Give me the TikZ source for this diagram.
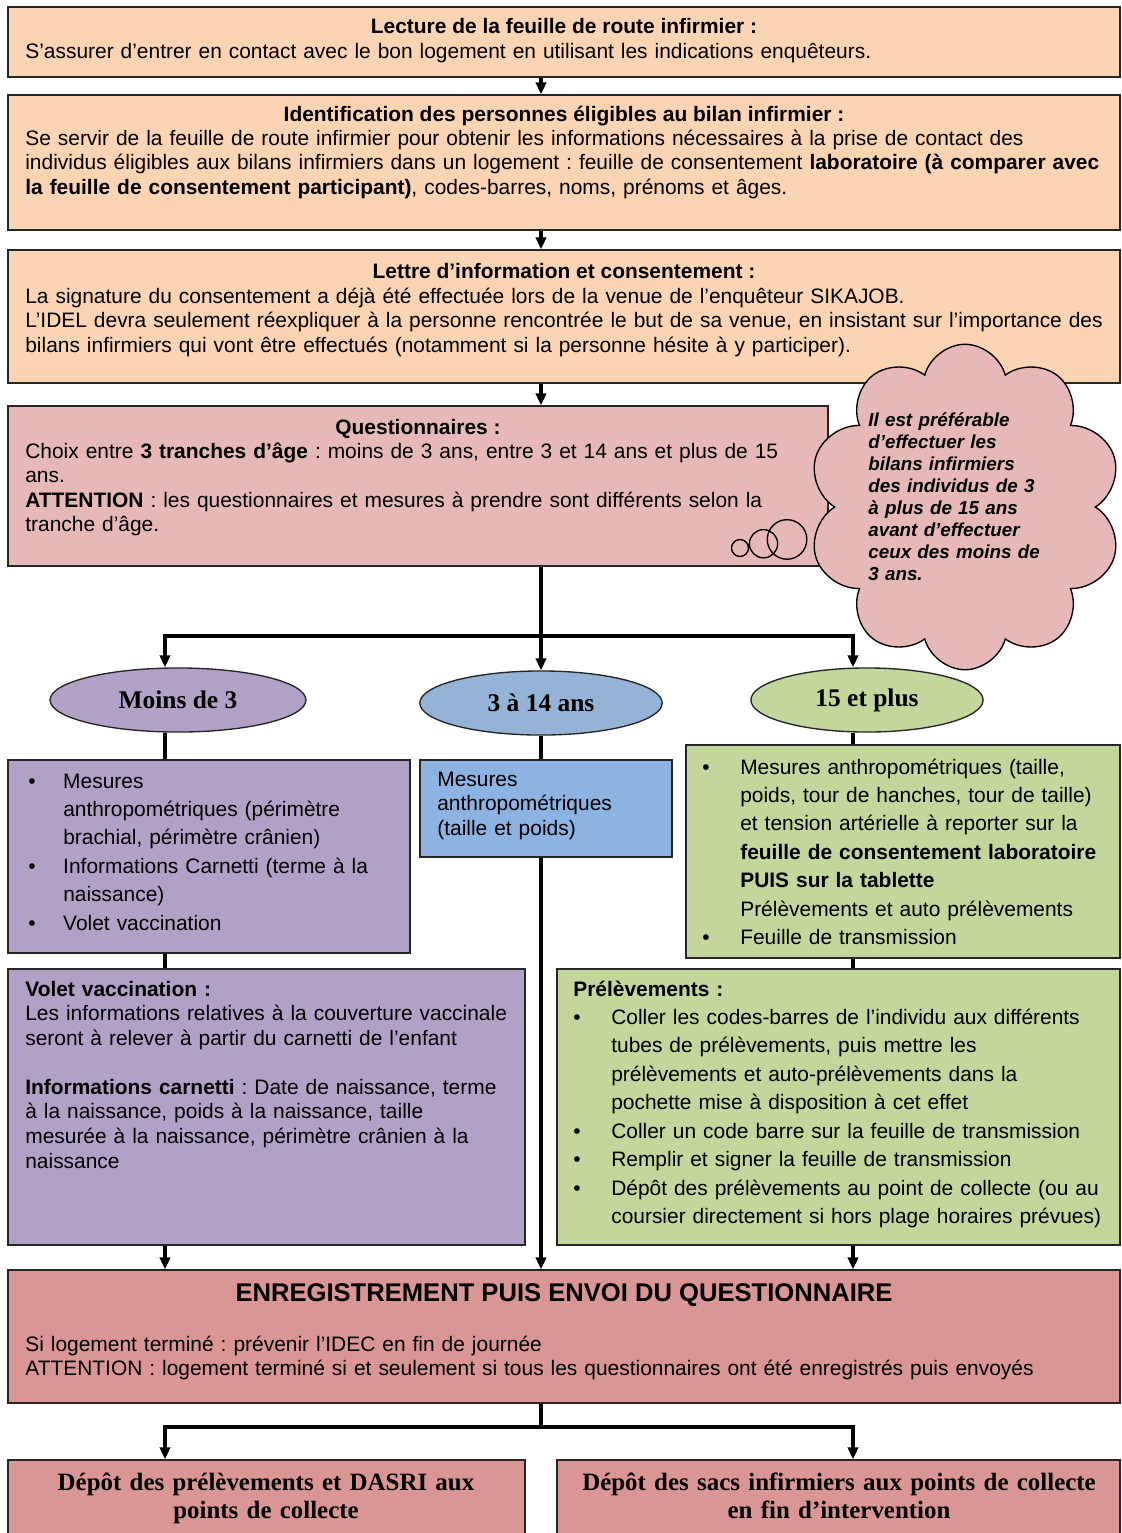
\documentclass[tikz,border=0pt]{standalone}
\usepackage{fontspec}
\setmainfont{Liberation Sans}
\newfontfamily\tnr{Liberation Serif}
\frenchspacing
\usetikzlibrary{arrows.meta,fit,shapes.geometric,shapes.symbols,shapes.callouts}
\definecolor{peche}{HTML}{FBD4B4}
\definecolor{rosepale}{HTML}{E6B9B8}
\definecolor{rosefonce}{HTML}{D99694}
\definecolor{violet}{HTML}{B2A1C7}
\definecolor{bleuov}{HTML}{95B3D7}
\definecolor{bleubox}{HTML}{8DB3E2}
\definecolor{vert}{HTML}{C3D69B}
\tikzset{
    box/.style={draw=black!85,line width=0.8pt,inner sep=0pt},
    ovale/.style={ellipse,draw=black!85,line width=0.8pt,minimum height=37.8pt,
        font=\tnr\bfseries\fontsize{15}{17}\selectfont},
    titre/.style={anchor=base,inner sep=0pt,font=\bfseries\fontsize{12.35}{14.5}\selectfont},
    txt/.style={anchor=base west,inner sep=0pt,align=left,text width=#1,
        font=\fontsize{12.35}{14.5}\selectfont},
    liste/.style={txt=#1,font=\fontsize{12.35}{16.8}\selectfont},
    depot/.style={anchor=base,inner sep=0pt,align=center,text width=283pt,
        font=\tnr\bfseries\fontsize{14.7}{17}\selectfont},
    flow/.style={-{Triangle[length=7pt,width=6pt]},line width=2pt},
    link/.style={line width=2pt}
}
\newcommand{\puce}[2]{{\noindent\hangindent=#1\hangafter=1\makebox[#1][l]{\textbullet}#2\par}}

\begin{document}
\begin{tikzpicture}[x=0.59pt,y=-0.59pt]
\useasboundingbox (0,0) rectangle (1122,1533);
% colonnes des fleches
\coordinate (colA) at (165,0);
\coordinate (colB) at (541,0);
\coordinate (colC) at (853,0);

% etapes communes
\node[box,fill=peche,fit={(8,7)(1120,77)}] (lecture) {};
\node[titre] (lectureH) at (564,33) {Lecture de la feuille de route infirmier :};
\node[txt=650pt] (lectureT) at (25,58) {S’assurer d’entrer en contact avec le bon logement en utilisant les indications enquêteurs.};

\node[box,fill=peche,fit={(8,95)(1120,230)}] (ident) {};
\node[titre] (identH) at (564,121) {Identification des personnes éligibles au bilan infirmier :};
\node[txt=650pt] (identT) at (25,145) {Se servir de la feuille de route infirmier pour obtenir les informations nécessaires à la prise de contact des\\
individus éligibles aux bilans infirmiers dans un logement : feuille de consentement \textbf{laboratoire (à comparer avec}\\
\textbf{la feuille de consentement participant)}, codes-barres, noms, prénoms et âges.};

\node[box,fill=peche,fit={(8,250)(1120,383)}] (lettre) {};
\node[titre] (lettreH) at (564,278) {Lettre d’information et consentement :};
\node[txt=650pt] (lettreT) at (25,303) {La signature du consentement a déjà été effectuée lors de la venue de l’enquêteur SIKAJOB.\\
L’IDEL devra seulement réexpliquer à la personne rencontrée le but de sa venue, en insistant sur l’importance des\\
bilans infirmiers qui vont être effectués (notamment si la personne hésite à y participer).};

\node[box,fill=rosepale,fit={(8,406)(828,566)}] (quest) {};
\node[titre] (questH) at (418,434) {Questionnaires :};
\node[txt=470pt] (questT) at (25,458) {Choix entre \textbf{3 tranches d’âge} : moins de 3 ans, entre 3 et 14 ans et plus de 15\\
ans.\\
\textbf{ATTENTION} : les questionnaires et mesures à prendre sont différents selon la\\
tranche d’âge.};

% tranches d'age
\node[ovale,fill=violet,minimum width=151pt] (moins) at (178,700) {Moins de 3};
\node[ovale,fill=bleuov,minimum width=143pt] (troisq) at (541,703) {3 à 14 ans};
\node[ovale,fill=vert,minimum width=137pt] (quinze) at (867,700) {15 et plus};

\node[box,fill=violet,fit={(8,760)(410,953)}] (mesA) {};
\node[liste=225pt] (mesAT) at (28,788) {\puce{20.6pt}{Mesures\newline anthropométriques (périmètre\newline brachial, périmètre crânien)}%
\puce{20.6pt}{Informations Carnetti (terme à la\newline naissance)}%
\puce{20.6pt}{Volet vaccination}};

\node[box,fill=bleubox,fit={(420,760)(672,857)}] (mesB) {};
\node[txt=140pt] (mesBT) at (437,786) {Mesures\\anthropométriques\\(taille et poids)};

\node[box,fill=vert,fit={(686,745)(1120,958)}] (mesC) {};
\node[liste=250pt] (mesCT) at (702,774) {\puce{22.4pt}{Mesures anthropométriques (taille,\newline poids, tour de hanches, tour de taille)\newline et tension artérielle à reporter sur la\newline \textbf{feuille de consentement laboratoire}\newline \textbf{PUIS sur la tablette}\newline Prélèvements et auto prélèvements}%
\puce{22.4pt}{Feuille de transmission}};

\node[box,fill=violet,fit={(8,969)(525,1245)}] (volet) {};
\node[txt=300pt] (voletT) at (25,996) {\textbf{Volet vaccination :}\\
Les informations relatives à la couverture vaccinale\\
seront à relever à partir du carnetti de l’enfant\\[14.5pt]
\textbf{Informations carnetti} : Date de naissance, terme\\
à la naissance, poids à la naissance, taille\\
mesurée à la naissance, périmètre crânien à la\\
naissance};

\node[box,fill=vert,fit={(557,969)(1120,1245)}] (prelev) {};
\node[liste=330pt] (prelevT) at (573,996) {\textbf{Prélèvements :}\par
\puce{22.4pt}{Coller les codes-barres de l’individu aux différents\newline tubes de prélèvements, puis mettre les\newline prélèvements et auto-prélèvements dans la\newline pochette mise à disposition à cet effet}%
\puce{22.4pt}{Coller un code barre sur la feuille de transmission}%
\puce{22.4pt}{Remplir et signer la feuille de transmission}%
\puce{22.4pt}{Dépôt des prélèvements au point de collecte (ou au\newline coursier directement si hors plage horaires prévues)}};

% fin de visite
\node[box,fill=rosefonce,fit={(8,1270)(1120,1403)}] (enreg) {};
\node[titre,font=\bfseries\fontsize{15.1}{17}\selectfont] (enregH) at (564,1301) {ENREGISTREMENT PUIS ENVOI DU QUESTIONNAIRE};
\node[txt=650pt] (enregT) at (25,1351) {Si logement terminé : prévenir l’IDEC en fin de journée\\
ATTENTION : logement terminé si et seulement si tous les questionnaires ont été enregistrés puis envoyés};

\node[box,fill=rosefonce,fit={(8,1460)(525,1550)}] (depotA) {};
\node[depot] (depotAT) at (266,1490) {Dépôt des prélèvements et DASRI aux\\points de collecte};
\node[box,fill=rosefonce,fit={(557,1460)(1120,1550)}] (depotB) {};
\node[depot,text width=330pt] (depotBT) at (839,1490) {Dépôt des sacs infirmiers aux points de collecte\\en fin d’intervention};

% connecteurs
\draw[flow] (lecture.south -| colB) -- (ident.north -| colB);
\draw[flow] (ident.south -| colB) -- (lettre.north -| colB);
\draw[flow] (lettre.south -| colB) -- (quest.north -| colB);
\coordinate (fourche) at (541,636);
\draw[link] (quest.south -| colB) -- (fourche);
\draw[flow] (fourche) -| (moins.north -| colA);
\draw[flow] (fourche) -- (troisq.north);
\draw[flow] (fourche) -| (quinze.north -| colC);
\draw[link] (moins.south -| colA) -- (mesA.north -| colA);
\draw[link] (troisq.south) -- (mesB.north -| colB);
\draw[link] (quinze.south -| colC) -- (mesC.north -| colC);
\draw[link] (mesA.south -| colA) -- (volet.north -| colA);
\draw[link] (mesC.south -| colC) -- (prelev.north -| colC);
\draw[flow] (volet.south -| colA) -- (enreg.north -| colA);
\draw[flow] (mesB.south -| colB) -- (enreg.north -| colB);
\draw[flow] (prelev.south -| colC) -- (enreg.north -| colC);
\coordinate (fourche2) at (541,1427);
\draw[link] (enreg.south -| colB) -- (fourche2);
\draw[flow] (fourche2) -| (depotA.north -| colA);
\draw[flow] (fourche2) -| (depotB.north -| colC);

% bulle de conseil
\node[cloud callout,draw=black,fill=rosepale,line width=0.8pt,cloud puffs=10,
    cloud ignores aspect,minimum width=185pt,minimum height=192pt,
    callout absolute pointer={(740,548)},callout pointer segments=3,
    callout pointer start size=30pt,callout pointer end size=10pt] (bulle) at (965,507) {};
\node[txt=125pt,font=\bfseries\itshape\fontsize{11.1}{13}\selectfont] (bulleT) at (868,426) {Il est préférable\\d’effectuer les\\bilans infirmiers\\des individus de 3\\à plus de 15 ans\\avant d’effectuer\\ceux des moins de\\3 ans.};
\end{tikzpicture}
\end{document}
